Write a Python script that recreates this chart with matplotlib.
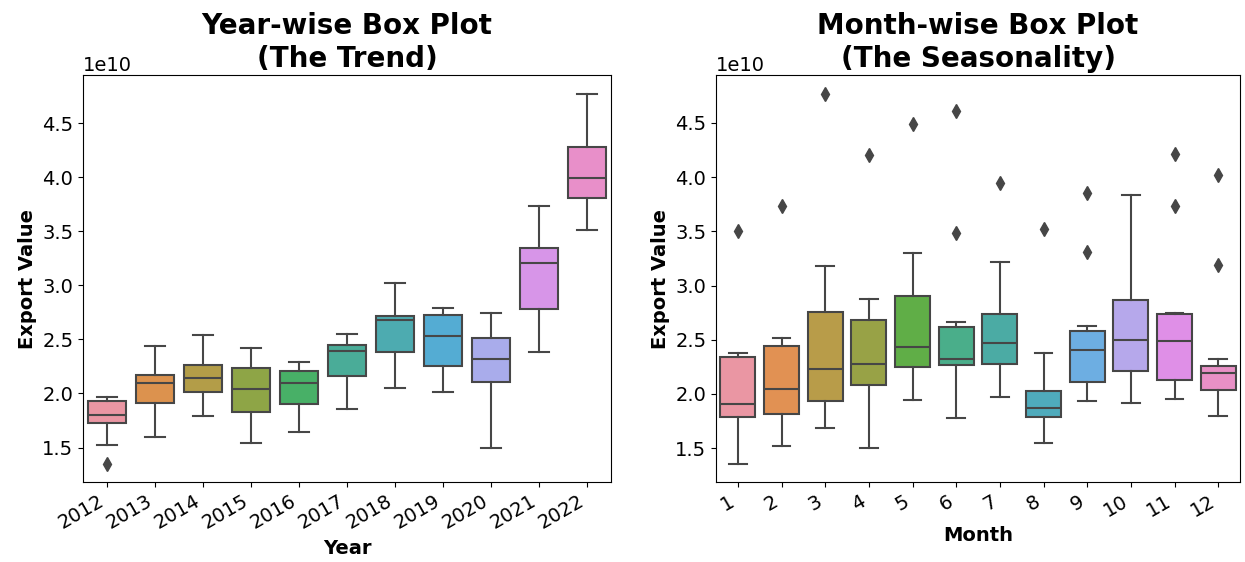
import colorsys
import matplotlib
matplotlib.use("Agg")
import matplotlib.pyplot as plt
import seaborn as sns

# ---------------- data (values in units of 1e10) ----------------
years = ["2012", "2013", "2014", "2015", "2016", "2017", "2018", "2019", "2020", "2021", "2022"]
year_whislo = [1.524, 1.598, 1.793, 1.543, 1.648, 1.857, 2.049, 2.015, 1.497, 2.382, 3.510]
year_q1 = [1.728, 1.916, 2.015, 1.830, 1.907, 2.163, 2.382, 2.255, 2.107, 2.782, 3.806]
year_med = [1.802, 2.101, 2.144, 2.042, 2.101, 2.394, 2.681, 2.533, 2.320, 3.208, 3.991]
year_q3 = [1.931, 2.172, 2.261, 2.237, 2.209, 2.446, 2.715, 2.724, 2.514, 3.341, 4.284]
year_whishi = [1.968, 2.440, 2.539, 2.422, 2.289, 2.548, 3.020, 2.789, 2.742, 3.738, 4.774]
year_fliers = [[1.352], [], [], [], [], [], [], [], [], [], []]

months = ["1", "2", "3", "4", "5", "6", "7", "8", "9", "10", "11", "12"]
month_whislo = [1.358, 1.524, 1.682, 1.497, 1.941, 1.774, 1.968, 1.543, 1.931, 1.916, 1.950, 1.793]
month_q1 = [1.790, 1.811, 1.938, 2.079, 2.246, 2.265, 2.280, 1.783, 2.107, 2.209, 2.126, 2.039]
month_med = [1.907, 2.042, 2.227, 2.280, 2.431, 2.320, 2.468, 1.867, 2.409, 2.496, 2.487, 2.194]
month_q3 = [2.338, 2.440, 2.752, 2.681, 2.900, 2.613, 2.733, 2.030, 2.576, 2.866, 2.733, 2.261]
month_whishi = [2.382, 2.514, 3.177, 2.872, 3.298, 2.668, 3.221, 2.382, 2.631, 3.831, 2.745, 2.320]
month_fliers = [[3.504], [3.735], [4.771], [4.204], [4.494], [4.611, 3.486], [3.945],
                [3.519], [3.856, 3.310], [], [4.213, 3.735], [4.022, 3.190]]

SCALE = 1e10

plt.rcParams['font.family'] = ['DejaVu Sans']
plt.rcParams['font.size'] = 14

fig = plt.figure(figsize=(12.45, 5.62), dpi=100)
ax1 = fig.add_axes([0.0667, 0.1423, 0.4241, 0.7242])
ax2 = fig.add_axes([0.5751, 0.1423, 0.4209, 0.7242])


def draw(ax, labels, lo, q1, med, q3, hi, fl, title, xlabel):
    n = len(labels)
    pal = [sns.desaturate(c, 0.75) for c in sns.husl_palette(n, l=0.7)]
    lum = min(colorsys.rgb_to_hls(*c)[1] for c in pal) * 0.6
    gray = (lum, lum, lum)
    stats = []
    for i in range(n):
        stats.append(dict(med=med[i] * SCALE, q1=q1[i] * SCALE, q3=q3[i] * SCALE,
                          whislo=lo[i] * SCALE, whishi=hi[i] * SCALE,
                          fliers=[f * SCALE for f in fl[i]], label=labels[i]))
    bp = ax.bxp(stats, positions=list(range(n)), widths=0.8, patch_artist=True,
                boxprops=dict(linewidth=1.5, edgecolor=gray),
                whiskerprops=dict(color=gray, linewidth=1.5),
                capprops=dict(color=gray, linewidth=1.5),
                medianprops=dict(color=gray, linewidth=1.5),
                flierprops=dict(marker='d', markerfacecolor=gray, markeredgecolor=gray,
                                markersize=7, linestyle='none'))
    for patch, c in zip(bp['boxes'], pal):
        patch.set_facecolor(c)
    ax.set_xlim(-0.5, n - 0.5)
    allv = lo + hi + [f for s in fl for f in s]
    vmin, vmax = min(allv) * SCALE, max(allv) * SCALE
    pad = (vmax - vmin) * 0.05
    ax.set_ylim(vmin - pad, vmax + pad)
    ax.set_xticks(range(n))
    ax.set_xticklabels(labels, rotation=30, ha='right')
    ax.set_title(title, fontsize=20, fontweight='bold')
    ax.set_xlabel(xlabel, fontsize=14, fontweight='bold')
    ax.set_ylabel("Export Value", fontsize=14, fontweight='bold')


draw(ax1, years, year_whislo, year_q1, year_med, year_q3, year_whishi, year_fliers,
     "Year-wise Box Plot\n(The Trend)", "Year")
draw(ax2, months, month_whislo, month_q1, month_med, month_q3, month_whishi, month_fliers,
     "Month-wise Box Plot\n(The Seasonality)", "Month")

fig.savefig("out.png", dpi=100)
